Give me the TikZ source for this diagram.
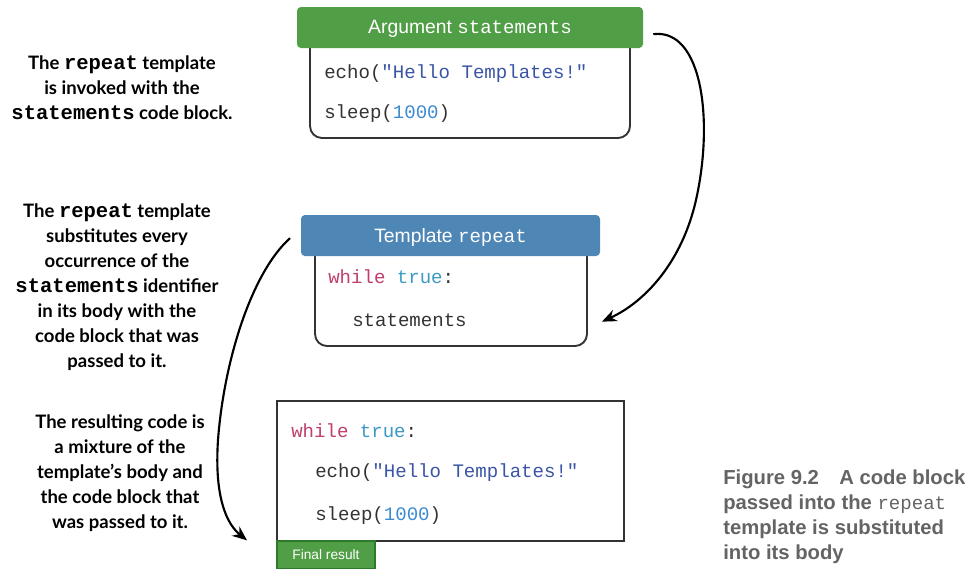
\documentclass[tikz,border=0pt]{standalone}
\usepackage{fontspec}
\setmainfont{Liberation Sans}
\newfontfamily\notefont{Lato}
\newfontfamily\codefont{Liberation Mono}
\usetikzlibrary{arrows.meta,fit}
\definecolor{hdgreen}{HTML}{509E45}
\definecolor{lbgreen}{HTML}{2F7A2A}
\definecolor{hdblue}{HTML}{4E86B5}
\definecolor{txt}{HTML}{333333}
\definecolor{kwmag}{HTML}{BF3F6E}
\definecolor{kwblue}{HTML}{3D9AC4}
\definecolor{strblue}{HTML}{3A55A5}
\definecolor{numblue}{HTML}{3C8BD0}
\definecolor{capgray}{HTML}{646464}
\newcommand{\kw}[1]{\textcolor{kwmag}{#1}}
\newcommand{\kb}[1]{\textcolor{kwblue}{#1}}
\newcommand{\str}[1]{\textcolor{strblue}{#1}}
\newcommand{\num}[1]{\textcolor{numblue}{#1}}
\tikzset{
  headbox/.style={inner sep=0pt, rounded corners=3pt},
  headtext/.style={inner sep=0pt, text=white, font=\fontsize{14.5}{17}\selectfont},
  bodybox/.style={inner sep=0pt, draw=txt, line width=1.4pt, rounded corners=9pt, fill=white},
  codeline/.style={anchor=base west, inner sep=0pt, text=txt, font=\codefont\fontsize{14.3}{17}\selectfont},
  note/.style={align=center, text=black, inner sep=0pt, font=\notefont\bfseries\fontsize{13.9}{18.75}\selectfont},
  link/.style={line width=1.6pt, -{Stealth[length=11pt,width=9pt]}},
}
\newcommand{\nm}[1]{{\codefont\bfseries\fontsize{15.4}{18.75}\selectfont #1}}
\begin{document}
\begin{tikzpicture}[x=0.75pt,y=-0.75pt]
\useasboundingbox (0,0) rectangle (975,568);
\fill[white] (0,0) rectangle (975,568);

% Argument box
\node[bodybox, fit={(310,28) (630,138)}] (argBody) {};
\node[headbox, fill=hdgreen, fit={(297,7) (643,48)}] (argHead) {};
\node[headtext] (argTitle) at ([yshift=-1.2pt]argHead.center) {Argument {\codefont\fontsize{14.3}{17}\selectfont statements}};
\node[codeline] (argL1) at (324,78) {echo(\str{"Hello Templates!"}};
\node[codeline] (argL2) at (324,118) {sleep(\num{1000})};

% Template box
\node[bodybox, fit={(315,236) (587,346)}] (tplBody) {};
\node[headbox, fill=hdblue, fit={(301,215) (600,256)}] (tplHead) {};
\node[headtext] (tplTitle) at ([yshift=-1.2pt]tplHead.center) {Template {\codefont\fontsize{14.3}{17}\selectfont repeat}};
\node[codeline] (tplL1) at (328,283) {\kw{while} \kb{true}:};
\node[codeline] (tplL2) at (352,326) {statements};

% Result box
\node[inner sep=0pt, draw=txt, line width=1.4pt, fit={(277,401) (624,541)}] (result) {};
\node[codeline] (resL1) at (291,437) {\kw{while} \kb{true}:};
\node[codeline] (resL2) at (315,477) {echo(\str{"Hello Templates!"}};
\node[codeline] (resL3) at (315,520) {sleep(\num{1000})};
\node[inner sep=0pt, fill=hdgreen, draw=lbgreen, line width=1pt, fit={(277,541) (375,569)}] (final) {};
\node[inner sep=0pt, text=white, font=\fontsize{10.3}{12}\selectfont] (finalText) at (final.center) {Final result};

% Notes
\node[note] (note1) at (122,88) {The \nm{repeat} template\\is invoked with the\\\nm{statements} code block.};
\node[note] (note2) at (117,287) {The \nm{repeat} template\\substitutes every\\occurrence of the\\\nm{statements} identifier\\in its body with the\\code block that was\\passed to it.};
\node[note] (note3) at (120,473) {The resulting code is\\a mixture of the\\template’s body and\\the code block that\\was passed to it.};

% Caption
\node[anchor=north west, align=left, inner sep=0pt, text=capgray,
      font=\bfseries\fontsize{15.2}{18.75}\selectfont] (caption) at (723,470)
  {Figure 9.2\quad A code block\\passed into the {\codefont\mdseries\fontsize{14.3}{18.75}\selectfont repeat}\\template is substituted\\into its body};

% Connectors
\coordinate (a1s) at ([xshift=7.5pt,yshift=-5pt]argHead.east);
\coordinate (a1e) at ([xshift=10.5pt,yshift=-23pt]tplBody.east);
\draw[link] (a1s) .. controls (702,28) and (714,120) .. (696,200)
                  .. controls (682,262) and (645,302) .. (a1e);
\coordinate (a2s) at ([xshift=-8pt,yshift=-2pt]tplHead.west);
\coordinate (a2e) at ([xshift=-22pt,yshift=0pt]final.north west);
\draw[link] (a2s) .. controls (252,272) and (224,360) .. (218,440)
                  .. controls (214,500) and (228,525) .. (a2e);
\end{tikzpicture}
\end{document}
